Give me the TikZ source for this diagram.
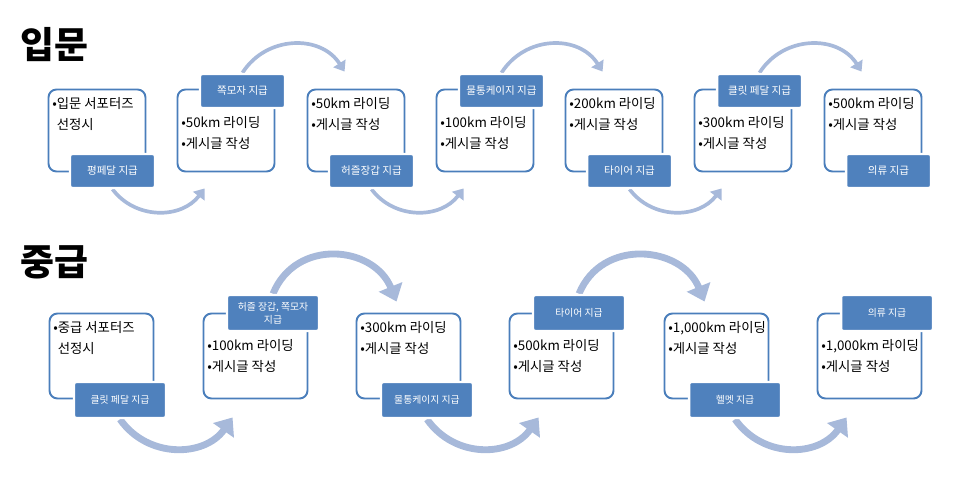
\documentclass[tikz,border=0pt]{standalone}
\usepackage{fontspec}
\setmainfont{Noto Sans CJK KR}
\usetikzlibrary{arrows.meta,positioning,calc,backgrounds}
\definecolor{frameblue}{HTML}{4A7EBB}
\definecolor{tagblue}{HTML}{4F81BD}
\definecolor{arcblue}{HTML}{A7B9DA}
\tikzset{
 stage/.style={draw=frameblue,line width=1.1pt,rounded corners=4.5pt,inner sep=0pt},
 tag/.style={fill=tagblue,draw=white,line width=1.4pt,rounded corners=1.2pt,text=white,align=center,inner sep=0pt},
 stagetext/.style={anchor=north west,align=left,inner sep=0pt,font=\fontsize{7.6}{11.9}\selectfont},
 thinarc/.style={arcblue,line width=2.1pt,-{Triangle[width=8pt,length=5.5pt]}},
 widearc/.style={arcblue,line width=3.9pt,-{Triangle[width=14pt,length=9pt]}}
}

\begin{document}
\begin{tikzpicture}[x=.02cm,y=-.02cm]
\useasboundingbox (0,0) rectangle (979,490);
\node[anchor=west,inner sep=0pt,font=\fontsize{21}{21}\selectfont\bfseries] (iptitle) at (20,45) {입문};
\node[anchor=west,inner sep=0pt,font=\fontsize{21}{21}\selectfont\bfseries] (jgtitle) at (20,262) {중급};
% 입문 row
\foreach \n/\bx/\txt/\lab in {1/48/{•입문 서포터즈\\\hphantom{•}선정시}/{평페달 지급},
 2/177/{•50km 라이딩\\•게시글 작성}/{쪽모자 지급},
 3/307/{•50km 라이딩\\•게시글 작성}/{허즐장갑 지급},
 4/436/{•100km 라이딩\\•게시글 작성}/{물통케이지 지급},
 5/565/{•200km 라이딩\\•게시글 작성}/{타이어 지급},
 6/694/{•300km 라이딩\\•게시글 작성}/{클릿 페달 지급},
 7/824/{•500km 라이딩\\•게시글 작성}/{의류 지급}} {
 \node[stage,minimum width=1.94cm,minimum height=1.64cm] (ipbox\n) at (\bx+49,130.5) {};
 \ifodd\n
  \node[tag,minimum width=1.7cm,minimum height=.68cm,font=\fontsize{6}{7}\selectfont] (iptag\n) at (\bx+64.5,171) {\lab};
  \node[stagetext] (iptxt\n) at (\bx+4,97) {\txt};
 \else
  \node[tag,minimum width=1.7cm,minimum height=.68cm,font=\fontsize{6}{7}\selectfont] (iptag\n) at (\bx+65.5,91) {\lab};
  \node[stagetext] (iptxt\n) at (\bx+4,116) {\txt};
 \fi}
% 중급 row
\foreach \n/\bx/\txt/\lab in {1/49/{•중급 서포터즈\\\hphantom{•}선정시}/{클릿 페달 지급},
 2/203/{•100km 라이딩\\•게시글 작성}/{허즐 장갑, 쪽모자\\지급},
 3/356/{•300km 라이딩\\•게시글 작성}/{물통케이지 지급},
 4/509/{•500km 라이딩\\•게시글 작성}/{타이어 지급},
 5/664/{•1,000km 라이딩\\•게시글 작성}/{헬멧 지급},
 6/817/{•1,000km 라이딩\\•게시글 작성}/{의류 지급}} {
 \node[stage,minimum width=2.08cm,minimum height=1.7cm] (jgbox\n) at (\bx+52.5,356) {};
 \ifodd\n
  \node[tag,minimum width=1.84cm,minimum height=.72cm,font=\fontsize{5.6}{7.5}\selectfont] (jgtag\n) at (\bx+71,400) {\lab};
  \node[stagetext] (jgtxt\n) at (\bx+4,321) {\txt};
 \else
  \node[tag,minimum width=1.84cm,minimum height=.72cm,font=\fontsize{5.6}{7.5}\selectfont] (jgtag\n) at (\bx+70,313) {\lab};
  \node[stagetext] (jgtxt\n) at (\bx+4,339) {\txt};
 \fi}
\begin{scope}[on background layer]
 \foreach \n/\m in {1/2,3/4,5/6} {
  \coordinate (ipin\m) at ($(ipbox\m.south west)+(28,16)$);
  \draw[thinarc] (iptag\n.south) .. controls +(23,30.6) and +(-23,30.6) .. (ipin\m);}
 \foreach \n/\m in {2/3,4/5,6/7} {
  \coordinate (ipin\m) at ($(ipbox\m.north west)+(38,-17)$);
  \draw[thinarc] (iptag\n.north) .. controls +(23.7,-37.4) and +(-23.7,-37.4) .. (ipin\m);}
 \foreach \n/\m in {1/2,3/4,5/6} {
  \coordinate (jgin\m) at ($(jgbox\m.south west)+(30,18)$);
  \draw[widearc] (jgtag\n.south) .. controls +(27.8,39.7) and +(-27.8,39.7) .. (jgin\m);}
 \foreach \n/\m in {2/3,4/5} {
  \coordinate (jgin\m) at ($(jgbox\m.north west)+(41,-11)$);
  \draw[widearc] (jgtag\n.north) .. controls +(22.9,-56) and +(-22.9,-56) .. (jgin\m);}
\end{scope}
\end{tikzpicture}
\end{document}
